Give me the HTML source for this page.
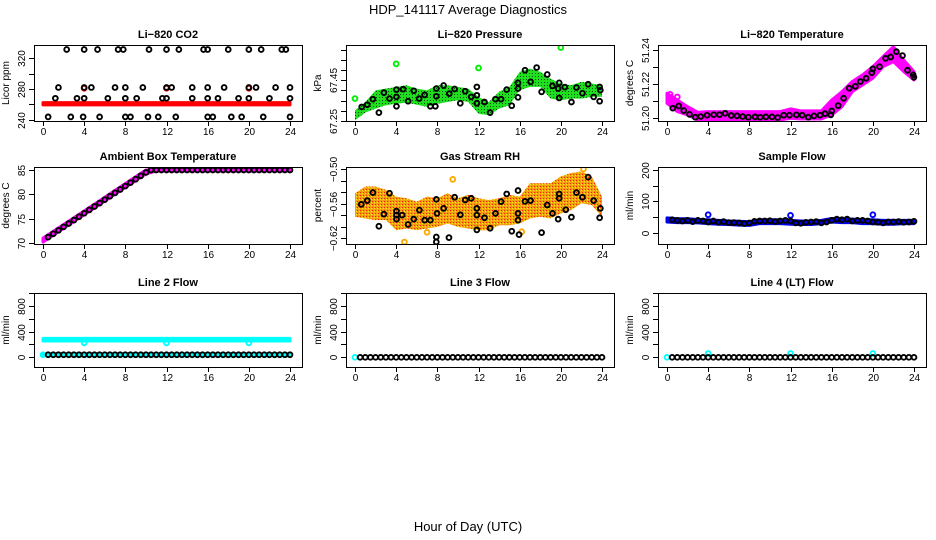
<!DOCTYPE html>
<html><head><meta charset="utf-8"><style>
html,body{margin:0;padding:0;background:#fff;}
svg{display:block;font-family:"Liberation Sans",sans-serif;}
</style></head><body>
<svg id="chart" width="936" height="540" viewBox="0 0 936 540">
<defs>
<pattern id="pGreen" width="3" height="3" patternUnits="userSpaceOnUse"><rect width="3" height="3" fill="#1fe01f"/><rect x="1" y="1" width="1" height="1" fill="#0a4a0a"/></pattern>
<pattern id="pOrange" width="3" height="3" patternUnits="userSpaceOnUse"><rect width="3" height="3" fill="#f0a010"/><rect x="0" y="0" width="1" height="1" fill="#ff2000"/><rect x="2" y="1" width="1" height="1" fill="#ffee00"/></pattern>
</defs>
<text x="468" y="14" text-anchor="middle" font-size="13">HDP_141117  Average Diagnostics</text>
<text x="468" y="531" text-anchor="middle" font-size="13">Hour of Day (UTC)</text>
</svg>
<script>
// ---- shared ----
const xTicks=[0,4,8,12,16,20,24];
const hours=[0,1,2,3,4,5,6,7,8,9,10,11,12,13,14,15,16,17,18,19,20,21,22,23,24];
const halfHours=[0.5,1,1.5,2,2.5,3,3.5,4,4.5,5,5.5,6,6.5,7,7.5,8,8.5,9,9.5,10,10.5,11,11.5,12,12.5,13,13.5,14,14.5,15,15.5,16,16.5,17,17.5,18,18.5,19,19.5,20,20.5,21,21.5,22,22.5,23,23.5,24];
// ---- CO2 ----
const co2T=[0.5,1.2,1.5,2.3,2.7,3.3,3.9,4,4,4,4.7,5.3,5.5,6.3,7,7.3,7.8,8,8,8,8.5,9.1,9.7,10.2,10.3,11.2,11.6,12,12,12,12.5,12.9,13.2,14.5,14.5,15.6,16,16,16,16,16.5,17,17.6,18,18.3,19,19.3,20,20,20,20.7,21.2,21.4,22,22.6,23.2,23.6,24,24,24];
const co2V=[244,268,282,331,244,268,244,331,282,268,282,331,244,268,282,331,331,282,268,244,244,268,282,244,331,244,268,331,282,268,282,244,331,282,268,331,331,282,268,244,244,268,282,331,244,268,244,331,282,268,282,331,244,268,282,331,331,282,268,244];
const co2BandHi=[262.5,262.5,262.5,262.5,262.5,262.5,262.5,262.5,262.5,262.5,262.5,262.5,262.5,262.5,262.5,262.5,262.5,262.5,262.5,262.5,262.5,262.5,262.5,262.5,262.5];
const co2BandLo=[259.5,259.5,259.5,259.5,259.5,259.5,259.5,259.5,259.5,259.5,259.5,259.5,259.5,259.5,259.5,259.5,259.5,259.5,259.5,259.5,259.5,259.5,259.5,259.5,259.5];
const co2OutT=[4,12,20];
const co2OutV=[281,281,281];
// ---- Pressure ----
const presT=[0.65,1.19,1.74,2.32,2.81,3.35,4.03,4.03,4.03,4.68,5.16,5.71,6.23,6.77,7.32,7.81,7.9,7.9,8.61,9.16,9.68,10.23,10.71,11.29,11.84,11.84,11.84,12.58,13.13,13.65,14.19,14.74,15.23,15.84,15.84,15.84,16.52,17.06,17.65,18.13,18.68,19.19,19.74,19.84,19.84,20.39,21.03,21.52,22.1,22.65,23.19,23.77,23.77,23.84];
const presV=[67.319,67.330,67.357,67.291,67.389,67.360,67.322,67.368,67.404,67.406,67.347,67.398,67.360,67.378,67.322,67.322,67.371,67.409,67.424,67.384,67.407,67.337,67.396,67.368,67.417,67.337,67.376,67.343,67.291,67.357,67.357,67.404,67.325,67.366,67.409,67.437,67.499,67.442,67.512,67.393,67.478,67.422,67.409,67.437,67.363,67.416,67.343,67.414,67.386,67.430,67.368,67.347,67.417,67.401];
const presBandHi=[67.302,67.343,67.401,67.409,67.417,67.425,67.409,67.401,67.425,67.425,67.417,67.409,67.368,67.343,67.393,67.417,67.491,67.507,67.491,67.458,67.434,67.425,67.442,67.434,67.425];
const presBandLo=[67.253,67.291,67.311,67.327,67.335,67.340,67.330,67.319,67.335,67.343,67.352,67.343,67.286,67.278,67.311,67.327,67.401,67.417,67.417,67.360,67.352,67.360,67.360,67.368,67.368];
const presOutT=[0,4,12,20];
const presOutV=[67.36,67.53,67.51,67.61];
// ---- Li-820 Temperature ----
const tempT=[0.56,1.14,1.63,2.19,2.75,3.27,3.89,4.54,5.10,5.65,6.24,6.80,7.35,7.91,8.56,9.05,9.61,10.2,10.75,11.34,11.9,12.58,13.14,13.73,14.28,14.87,15.36,15.92,16.01,16.63,17.16,17.71,18.3,18.79,19.35,19.9,20.0,20.65,21.24,21.73,22.29,22.88,23.37,23.92,23.99];
const tempV=[51.2059,51.2072,51.2045,51.2023,51.2006,51.2010,51.2018,51.2021,51.2021,51.2029,51.2016,51.2014,51.2010,51.2006,51.2008,51.2006,51.2008,51.2008,51.2004,51.2018,51.2018,51.2020,51.2018,51.2006,51.2014,51.2018,51.2027,51.2020,51.2043,51.2074,51.2117,51.2176,51.2187,51.2215,51.2234,51.2267,51.2289,51.2302,51.2351,51.2359,51.2390,51.2367,51.2281,51.2254,51.2240];
const tempBandHi=[51.2146,51.2107,51.2068,51.2035,51.2039,51.2039,51.2039,51.2039,51.2039,51.2039,51.2039,51.2039,51.2055,51.2043,51.2043,51.2043,51.2107,51.2156,51.2215,51.2254,51.2302,51.2361,51.2419,51.2341,51.2273];
const tempBandLo=[51.2088,51.2039,51.2020,51.1990,51.1990,51.1990,51.1990,51.1990,51.1990,51.1990,51.1990,51.1990,51.2000,51.1996,51.1996,51.1996,51.2020,51.2068,51.2156,51.2195,51.2234,51.2302,51.2332,51.2273,51.2224];
const tempOutT=[0.3,1.0];
const tempOutV=[51.2140,51.2125];
// ---- Ambient box temperature ----
const ambV=[71.2,71.9,72.6,73.3,74.0,74.7,75.4,76.1,76.8,77.5,78.2,78.9,79.6,80.3,81.0,81.7,82.4,83.1,83.8,84.5,85,85,85,85,85,85,85,85,85,85,85,85,85,85,85,85,85,85,85,85,85,85,85,85,85,85,85,85];
const ambBandHi=[71.0,72.4,73.8,75.2,76.6,78.0,79.4,80.8,82.2,83.6,85.0,85.2,85.2,85.2,85.2,85.2,85.2,85.2,85.2,85.2,85.2,85.2,85.2,85.2,85.2];
const ambBandLo=[70.2,71.6,73.0,74.4,75.8,77.2,78.6,80.0,81.4,82.8,84.2,84.8,84.8,84.8,84.8,84.8,84.8,84.8,84.8,84.8,84.8,84.8,84.8,84.8,84.8];
// ---- Gas stream RH ----
const rhT=[0.61,1.19,1.74,2.32,2.81,3.35,4.03,4.03,4.03,4.58,5.16,5.71,6.26,6.77,7.32,7.9,7.9,7.9,7.97,8.61,9.13,9.68,10.23,10.71,11.29,11.84,11.84,11.84,12.58,13.13,13.65,14.19,14.74,15.23,15.84,15.84,15.84,15.94,16.52,17.06,18.13,18.68,19.19,19.74,19.84,19.84,20.48,21.03,21.52,22.1,22.65,23.19,23.77,23.84];
const rhV=[-0.5614,-0.5550,-0.5410,-0.5995,-0.5784,-0.5421,-0.5731,-0.5801,-0.5872,-0.5801,-0.5965,-0.5872,-0.5714,-0.5889,-0.5889,-0.6182,-0.6269,-0.5527,-0.5772,-0.5684,-0.6193,-0.5491,-0.5796,-0.5538,-0.5509,-0.5801,-0.5684,-0.6059,-0.5848,-0.6030,-0.5772,-0.5567,-0.5433,-0.6082,-0.5772,-0.5889,-0.5374,-0.6141,-0.5562,-0.5550,-0.6106,-0.5626,-0.5772,-0.5872,-0.5509,-0.5433,-0.5708,-0.5837,-0.5410,-0.5491,-0.5140,-0.5550,-0.5848,-0.5684];
const rhBandHi=[-0.5421,-0.5304,-0.5304,-0.5363,-0.548,-0.5509,-0.5567,-0.548,-0.5509,-0.5421,-0.5509,-0.545,-0.5509,-0.5538,-0.5509,-0.545,-0.548,-0.5246,-0.5246,-0.5246,-0.5129,-0.507,-0.5041,-0.5129,-0.548];
const rhBandLo=[-0.5831,-0.5860,-0.5889,-0.5889,-0.6065,-0.6035,-0.6065,-0.6035,-0.6006,-0.5948,-0.6006,-0.6035,-0.6065,-0.6065,-0.5977,-0.5977,-0.5948,-0.5860,-0.5831,-0.5860,-0.5772,-0.5714,-0.5597,-0.5626,-0.5831];
const rhOutT=[9.5,4.8,16.2,7.0,22.2];
const rhOutV=[-0.518,-0.627,-0.609,-0.610,-0.500];
// ---- Sample flow ----
const sfV=[42,40,38,40,36,40,38,35,38,34,36,33,33,32,30,32,37,38,38,39,36,38,40,38,32,31,34,35,36,32,35,40,44,42,44,38,40,40,38,35,34,32,35,35,36,34,35,37];
const sfBandHi=[48,45,45,43,42,40,38,37,36,42,42,42,40,38,38,40,46,45,44,42,42,40,40,40,40];
const sfBandLo=[35,33,33,32,30,28,27,25,24,30,30,30,28,27,27,30,35,33,33,30,30,28,28,30,30];
const sfOutT=[4,12,20];
const sfOutV=[58,56,58];
// ---- Line 2 flow ----
const l2V=[40,40,40,40,40,40,40,40,40,40,40,40,40,40,40,40,40,40,40,40,40,40,40,40,40,40,40,40,40,40,40,40,40,40,40,40,40,40,40,40,40,40,40,40,40,40,40,40];
const l2HiBand=[295,295,295,295,295,295,295,295,295,295,295,295,295,295,295,295,295,295,295,295,295,295,295,295,295];
const l2LoBand=[255,255,255,255,255,255,255,255,255,255,255,255,255,255,255,255,255,255,255,255,255,255,255,255,255];
const l2BotHi=[55,55,55,55,55,55,55,55,55,55,55,55,55,55,55,55,55,55,55,55,55,55,55,55,55];
const l2BotLo=[25,25,25,25,25,25,25,25,25,25,25,25,25,25,25,25,25,25,25,25,25,25,25,25,25];
const l2OutT=[4,12,20,0];
const l2OutV=[225,225,225,40];
// ---- Line 3 flow ----
const l3V=[0,0,0,0,0,0,0,0,0,0,0,0,0,0,0,0,0,0,0,0,0,0,0,0,0,0,0,0,0,0,0,0,0,0,0,0,0,0,0,0,0,0,0,0,0,0,0,0];
const l3OutT=[0];
const l3OutV=[0];
// ---- Line 4 flow ----
const l4V=[0,0,0,0,0,0,0,0,0,0,0,0,0,0,0,0,0,0,0,0,0,0,0,0,0,0,0,0,0,0,0,0,0,0,0,0,0,0,0,0,0,0,0,0,0,0,0,0];
const l4OutT=[0,4,12,20];
const l4OutV=[0,60,60,60];

const NS='http://www.w3.org/2000/svg';
const svg=document.getElementById('chart');
function mk(tag,attrs,parent){const e=document.createElementNS(NS,tag);for(const k in attrs)e.setAttribute(k,attrs[k]);(parent||svg).appendChild(e);return e;}

const cols=[34,346,658], boxW=268, rowsY=[[45,121],[167,244],[293,367]];
const panels=[
 {id:'co2',c:0,r:0,title:'Li\u2212820 CO2',ylab:'Licor ppm',ymin:238.7,ymax:336.8,ticks:[240,260,280,300,320],labels:['240','','280','','320'],
  bands:[[hours,co2BandHi,co2BandLo,'#ff0000']],outs:[[co2OutT,co2OutV,'#ff0000']],black:[co2T,co2V]},
 {id:'pressure',c:1,r:0,title:'Li\u2212820 Pressure',ylab:'kPa',ymin:67.25,ymax:67.6225,ticks:[67.25,67.3,67.35,67.4,67.45,67.5,67.55,67.6],labels:['67.25','','','','67.45','','',''],
  bands:[[hours,presBandHi,presBandLo,'url(#pGreen)']],outs:[[presOutT,presOutV,'#00ee00']],black:[presT,presV]},
 {id:'li820-temp',c:2,r:0,title:'Li\u2212820 Temperature',ylab:'degrees C',ymin:51.1984,ymax:51.2429,ticks:[51.20,51.21,51.22,51.23,51.24],labels:['51.20','','51.22','','51.24'],
  bands:[[hours,tempBandHi,tempBandLo,'#ff00ff']],outs:[[tempOutT,tempOutV,'#ff00ff']],black:[tempT,tempV]},
 {id:'ambient-temp',c:0,r:1,title:'Ambient Box Temperature',ylab:'degrees C',ymin:69.79,ymax:85.62,ticks:[70,75,80,85],labels:['70','75','80','85'],
  bands:[[hours,ambBandHi,ambBandLo,'#ff00ff']],outs:[],black:[halfHours,ambV]},
 {id:'gas-rh',c:1,r:1,title:'Gas Stream RH',ylab:'percent',ymin:-0.6304,ymax:-0.4965,ticks:[-0.5,-0.52,-0.54,-0.56,-0.58,-0.6,-0.62],labels:['\u22120.50','','','\u22120.56','','','\u22120.62'],
  bands:[[hours,rhBandHi,rhBandLo,'url(#pOrange)']],outs:[[rhOutT,rhOutV,'#ffaa00']],black:[rhT,rhV]},
 {id:'sample-flow',c:2,r:1,title:'Sample Flow',ylab:'ml/min',ymin:-34.9,ymax:209.5,ticks:[0,50,100,150,200],labels:['0','','100','','200'],
  bands:[[hours,sfBandHi,sfBandLo,'#0000ee']],outs:[[sfOutT,sfOutV,'#0000ff']],black:[halfHours,sfV]},
 {id:'line2-flow',c:0,r:2,title:'Line 2 Flow',ylab:'ml/min',ymin:-151,ymax:1003,ticks:[0,200,400,600,800,1000],labels:['0','','400','','800',''],
  bands:[[hours,l2HiBand,l2LoBand,'#00ffff'],[hours,l2BotHi,l2BotLo,'#00ffff']],outs:[[l2OutT,l2OutV,'#00ffff']],black:[halfHours,l2V]},
 {id:'line3-flow',c:1,r:2,title:'Line 3 Flow',ylab:'ml/min',ymin:-151,ymax:1003,ticks:[0,200,400,600,800,1000],labels:['0','','400','','800',''],
  bands:[],outs:[[l3OutT,l3OutV,'#00ffff']],black:[halfHours,l3V]},
 {id:'line4-flow',c:2,r:2,title:'Line 4 (LT) Flow',ylab:'ml/min',ymin:-151,ymax:1003,ticks:[0,200,400,600,800,1000],labels:['0','','400','','800',''],
  bands:[],outs:[[l4OutT,l4OutV,'#00ffff']],black:[halfHours,l4V]}
];

panels.forEach(p=>{
  const L=cols[p.c],R=L+boxW,T=rowsY[p.r][0],B=rowsY[p.r][1];
  const xs=t=>L+9+t*(247/24);
  const ys=v=>B-(v-p.ymin)/(p.ymax-p.ymin)*(B-T);
  const g=mk('g',{});
  
  
  const clipId='clip-'+p.id;
  const cp=mk('clipPath',{id:clipId},g);
  mk('rect',{x:L,y:T,width:boxW,height:B-T},cp);
  const t=mk('text',{x:(L+R)/2,y:T-7,'text-anchor':'middle','font-size':'11','font-weight':'bold'},g);
  t.textContent=p.title;
  
  
  const yl=mk('text',{transform:`translate(${L-25},${(T+B)/2}) rotate(-90)`,'text-anchor':'middle','font-size':'10'},g);
  yl.textContent=p.ylab;
  
  
  const pg=mk('g',{'clip-path':`url(#${clipId})`},g);
  p.bands.forEach(b=>{
    const [bt,hi,lo,col]=b;
    let d='';
    bt.forEach((tt,i)=>{d+=(i?'L':'M')+xs(tt).toFixed(1)+','+ys(hi[i]).toFixed(1);});
    for(let i=bt.length-1;i>=0;i--)d+='L'+xs(bt[i]).toFixed(1)+','+ys(lo[i]).toFixed(1);
    const band=mk('path',{d:d+'Z',fill:col,stroke:col.startsWith('url')?'none':col,'stroke-width':'3','stroke-linejoin':'round'},pg);
    
    
  });
  p.outs.forEach(o=>{
    o[0].forEach((tt,i)=>{
      const c=mk('circle',{cx:xs(tt),cy:ys(o[1][i]),r:2.4,fill:'none',stroke:o[2],'stroke-width':'1.9'},pg);
      
      
    });
  });
  const [bt,bv]=p.black;
  bt.forEach((tt,i)=>{
    const c=mk('circle',{cx:xs(tt),cy:ys(bv[i]),r:2.4,fill:'none',stroke:'#000','stroke-width':'1.9'},pg);
    
    
  });
  const box=mk('rect',{x:L+0.5,y:T+0.5,width:boxW,height:B-T,fill:'none',stroke:'#000','stroke-width':'1'},g);
  
  
  xTicks.forEach(v=>{
    const x=Math.round(xs(v))+0.5;
    mk('line',{x1:x,y1:B,x2:x,y2:B+5,stroke:'#000'},g);
    const tl=mk('text',{x:x,y:B+14,'text-anchor':'middle','font-size':'10'},g);
    tl.textContent=v;
    
    
  });
  p.ticks.forEach((v,i)=>{
    const y=Math.round(ys(v))+0.5;
    mk('line',{x1:L-5,y1:y,x2:L,y2:y,stroke:'#000'},g);
    if(p.labels[i]){
      const tl=mk('text',{transform:`translate(${L-9},${y}) rotate(-90)`,'text-anchor':'middle','font-size':'10'},g);
      tl.textContent=p.labels[i];
      
      
    }
  });
});
</script>
</body></html>
